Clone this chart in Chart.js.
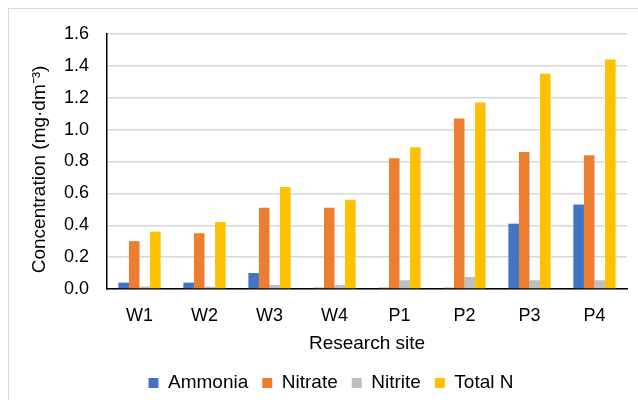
<!DOCTYPE html>
<html>
<head>
<meta charset="utf-8">
<script src="https://cdn.jsdelivr.net/npm/chart.js@4/dist/chart.umd.min.js"></script>
<style>
    html, body { margin: 0; padding: 0; background: #fff; }
    #wrap { position: relative; width: 638px; height: 400px; overflow: hidden; }
    #frame { position: absolute; left: 8px; top: 8px; width: 700px; height: 500px; border: 1px solid #d9d9d9; }
    #chart { position: absolute; left: 0; top: 0; }
</style>
</head>
<body>
<div id="wrap">
    <div id="frame"></div>
    <canvas id="chart" width="638" height="400"></canvas>
</div>
<script>
// Research sites on the x axis
const sites = ['W1', 'W2', 'W3', 'W4', 'P1', 'P2', 'P3', 'P4'];

// Concentrations, mg·dm⁻³
const ammonia = [0.04, 0.04, 0.10, 0.008, 0.008, 0.008, 0.41, 0.53];
const nitrate = [0.30, 0.35, 0.51, 0.51, 0.82, 1.07, 0.86, 0.84];
const nitrite = [0.015, 0.015, 0.025, 0.025, 0.055, 0.075, 0.055, 0.055];
const totalN  = [0.36, 0.42, 0.64, 0.56, 0.89, 1.17, 1.35, 1.44];

const yTicks = [0, 0.2, 0.4, 0.6, 0.8, 1.0, 1.2, 1.4, 1.6];

const font = "'Liberation Sans', Arial, sans-serif";

function series(label, data, color) {
    return {
        label: label,
        data: data,
        backgroundColor: color,
        borderWidth: 0,
        categoryPercentage: 0.65,
        barPercentage: 1.0
    };
}

new Chart(document.getElementById('chart').getContext('2d'), {
    type: 'bar',
    data: {
        labels: sites,
        datasets: [
            series('Ammonia', ammonia, '#4472C4'),
            series('Nitrate', nitrate, '#ED7D31'),
            series('Nitrite', nitrite, '#BFBFBF'),
            series('Total N', totalN, '#FFC000')
        ]
    },
    options: {
        responsive: false,
        animation: false,
        layout: { padding: { top: 34, left: 35, right: 11, bottom: -2.5 } },
        scales: {
            x: {
                grid: { display: false, drawTicks: false },
                border: { color: '#000', width: 1.5 },
                ticks: { color: '#000', padding: 16, font: { family: font, size: 18 } },
                title: {
                    display: true,
                    text: 'Research site',
                    color: '#000',
                    font: { family: font, size: 19 },
                    padding: { top: 0, bottom: 4 }
                },
                afterFit: function(scale) { scale.height = 70.5; }
            },
            y: {
                min: 0,
                max: 1.6,
                grid: { color: '#d9d9d9', lineWidth: 1.5, drawTicks: false },
                border: { color: '#000', width: 1.5 },
                afterBuildTicks: function(scale) {
                    scale.ticks = yTicks.map(v => ({ value: v }));
                },
                ticks: {
                    color: '#000',
                    padding: 18,
                    font: { family: font, size: 18 },
                    callback: v => v.toFixed(1)
                },
                title: {
                    display: true,
                    // trailing spaces nudge the rotated title down, like the original
                    text: 'Concentration (mg·dm⁻³)   ',
                    color: '#000',
                    font: { family: font, size: 19 },
                    padding: { top: -7, bottom: 0 }
                },
                afterFit: function(scale) { scale.width = 72; }
            }
        },
        plugins: {
            legend: {
                position: 'bottom',
                labels: {
                    color: '#000',
                    boxWidth: 10,
                    boxHeight: 10,
                    padding: 14,
                    font: { family: font, size: 19 }
                }
            },
            tooltip: { enabled: false }
        }
    }
});
</script>
</body>
</html>
